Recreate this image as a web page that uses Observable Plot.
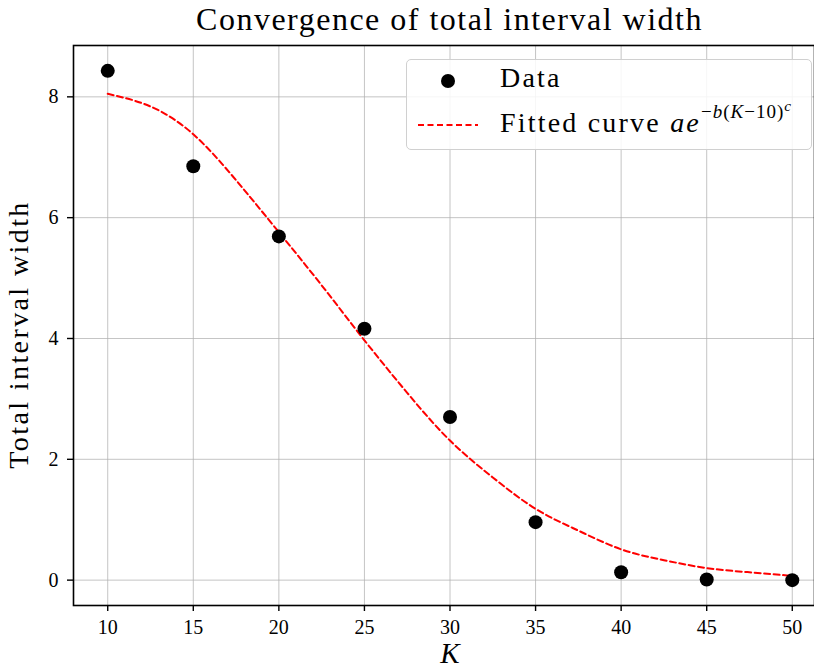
<!DOCTYPE html>
<html>
<head>
<meta charset="utf-8">
<script src="https://cdn.jsdelivr.net/npm/d3@7"></script>
<script src="https://cdn.jsdelivr.net/npm/@observablehq/plot@0.6"></script>
<style>
  body { margin: 0; background: #fff; }
  #wrap { position: relative; width: 814px; height: 670px; overflow: hidden; font-family: "Liberation Serif", serif; }
  #title { position: absolute; left: 73px; width: 753px; top: 1px; text-align: center; font-size: 32px; letter-spacing: 1.5px; color: #000; }
  #legend { position: absolute; left: 406px; top: 59px; width: 406px; height: 91px; box-sizing: border-box;
            border: 1.3px solid #d0d0d0; border-radius: 5px; background: rgba(255,255,255,0.85); font-size: 28px; letter-spacing: 2.2px; }
  .row { position: absolute; left: 93px; white-space: nowrap; }
  .sup { position: relative; top: -0.75em; font-size: 0.68em; letter-spacing: 1px; }
  .sup2 { position: relative; top: -0.45em; font-size: 0.8em; }
</style>
</head>
<body>
<div id="wrap">
  <div id="chart"></div>
  <div id="title">Convergence of total interval width</div>
  <div id="legend">
    <svg width="90" height="90" style="position:absolute;left:0;top:0">
      <circle cx="41" cy="21" r="7" fill="#000"></circle>
      <line x1="11" x2="71" y1="65" y2="65" stroke="#ff0000" stroke-width="2" stroke-dasharray="6,3.5"></line>
    </svg>
    <div class="row" style="top:2px">Data</div>
    <div class="row" style="top:47px">Fitted curve <i>ae</i><span class="sup">−<i>b</i>(<i>K</i>−10)<span class="sup2"><i>c</i></span></span></div>
  </div>
</div>
<script>
const K = [10, 15, 20, 25, 30, 35, 40, 45, 50];
const width = [8.43, 6.85, 5.69, 4.16, 2.70, 0.96, 0.13, 0.01, 0.00];

const fitK = [10, 12.5, 15, 17.5, 20, 22.5, 25, 27.5, 30, 32.5, 35, 37.5, 40, 42.5, 45, 47.5, 50];
const fitY = [8.05, 7.84, 7.38, 6.62, 5.76, 4.88, 3.97, 3.10, 2.31, 1.70, 1.18, 0.82, 0.51, 0.33, 0.20, 0.13, 0.07];

const xTicks = [10, 15, 20, 25, 30, 35, 40, 45, 50];
const yTicks = [0, 2, 4, 6, 8];

const points = K.map((k, i) => ({k, w: width[i]}));
const fit = fitK.map((k, i) => ({k, y: fitY[i]}));

const font = '"Liberation Serif", serif';

const chart = Plot.plot({
  width: 814,
  height: 670,
  marginTop: 45,
  marginLeft: 73,
  marginRight: 0,
  marginBottom: 65,
  style: {fontFamily: font, background: "#fff", overflow: "visible"},
  x: {domain: [8, 52], range: [73, 826]},
  y: {domain: [-0.42, 8.85], range: [605, 45]},
  marks: [
    Plot.gridX(xTicks, {stroke: "#b0b0b0", strokeOpacity: 0.75, strokeWidth: 1}),
    Plot.gridY(yTicks, {stroke: "#b0b0b0", strokeOpacity: 0.75, strokeWidth: 1}),
    Plot.line(fit, {x: "k", y: "y", stroke: "#ff0000", strokeWidth: 2, strokeDasharray: "6,3.5", curve: "natural"}),
    Plot.dot(points, {x: "k", y: "w", r: 7, fill: "#000", stroke: "none"}),
    Plot.frame({stroke: "#000", strokeWidth: 1.6}),
    Plot.axisX(xTicks, {tickSize: 6, tickPadding: 8, fontSize: 20, stroke: "#000", strokeWidth: 1.4, label: null, tickFormat: d => String(d)}),
    Plot.axisY(yTicks, {tickSize: 6, tickPadding: 9, fontSize: 20, stroke: "#000", strokeWidth: 1.4, label: null, tickFormat: d => String(d)}),
    Plot.text(["K"], {frameAnchor: "bottom", lineAnchor: "middle", textAnchor: "middle", dy: 48, x: () => 30, fontSize: 29, fontStyle: "italic", fontFamily: font, fill: "#000"}),
    Plot.text(["Total interval width"], {frameAnchor: "left", textAnchor: "middle", lineAnchor: "middle", dx: -54, dy: 9, rotate: -90, fontSize: 28, fontFamily: font, fill: "#000"})
  ]
});
chart.querySelectorAll("text").forEach(t => { if (t.textContent === "Total interval width") t.style.letterSpacing = "2.4px"; });
document.getElementById("chart").appendChild(chart);
</script>
</body>
</html>
